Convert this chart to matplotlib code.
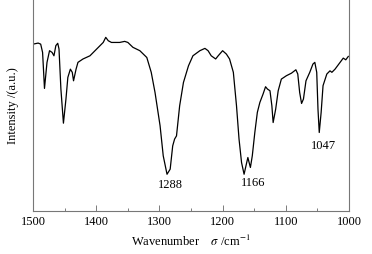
import numpy as np
import matplotlib.pyplot as plt

plt.rcParams['font.family'] = ['Liberation Serif', 'DejaVu Serif']
plt.rcParams['mathtext.fontset'] = 'stix'

# Спектр (волновое число, интенсивность)
wavenumber = [1500, 1492, 1488, 1485, 1482, 1478, 1474, 1470, 1467, 1464, 1461, 1459,
              1456, 1452, 1448, 1445, 1441, 1438, 1436, 1432, 1429, 1421, 1410, 1402,
              1394, 1389, 1385, 1381, 1376, 1363, 1355, 1350, 1342, 1331, 1320, 1313,
              1307, 1299, 1294, 1288, 1283, 1279, 1276, 1273, 1268, 1262, 1254, 1247,
              1236, 1228, 1223, 1218, 1211, 1207, 1200, 1194, 1189, 1183, 1178, 1174,
              1170, 1166, 1163, 1160, 1158, 1156, 1153, 1149, 1145, 1141, 1136, 1132,
              1129, 1125, 1122, 1120, 1116, 1112, 1107, 1099, 1091, 1084, 1081, 1078,
              1075, 1072, 1068, 1062, 1057, 1054, 1051, 1049, 1047, 1044, 1041, 1035,
              1030, 1027, 1022, 1014, 1009, 1005, 1001]
intensity = [78.7, 79.2, 78.7, 74.8, 57.8, 70.1, 75.6, 74.8, 73.2, 78.0, 79.1, 76.4,
             57.5, 41.4, 52.8, 63.0, 66.9, 65.4, 61.4, 66.9, 70.1, 71.7, 73.2, 75.6,
             78.0, 79.5, 81.9, 80.3, 79.5, 79.5, 80.0, 79.5, 77.2, 75.6, 72.4, 65.4,
             55.9, 40.2, 26.0, 17.3, 19.7, 30.7, 33.9, 35.4, 49.6, 60.6, 68.5, 73.2,
             75.6, 76.7, 75.6, 73.2, 71.7, 73.2, 75.6, 74.0, 71.7, 65.4, 49.6, 33.9,
             22.8, 17.3, 21.3, 25.2, 22.8, 20.5, 26.0, 37.0, 46.5, 51.2, 55.1, 58.6,
             57.5, 56.7, 49.6, 41.7, 48.0, 56.7, 62.2, 63.8, 65.0, 66.6, 64.6, 55.9,
             50.7, 52.8, 61.4, 65.4, 69.3, 70.1, 65.4, 48.0, 37.0, 46.5, 59.1, 64.6,
             66.1, 65.4, 66.9, 70.1, 72.1, 71.3, 72.9]

peak_labels = ['1288', '1166', '1047']

fig = plt.figure(figsize=(3.72, 2.55), dpi=100)
ax = fig.add_axes([0.089, 0.169, 0.849, 0.831])

ax.plot(wavenumber, intensity, color='black', lw=0.9)

ax.set_xlim(1500, 1000)
ax.set_ylim(0, 100)
ax.set_xticks([1500, 1400, 1300, 1200, 1100, 1000])
ax.set_xticks(np.arange(1450, 1000, -100), minor=True)
ax.set_yticks([])
ax.tick_params(axis='x', which='major', direction='in', length=4, width=0.6,
               labelsize=9, pad=3, color='#666666')
ax.tick_params(axis='x', which='minor', direction='in', length=2, width=0.6,
               color='#666666')
ax.spines['top'].set_visible(False)
for s in ['left', 'right', 'bottom']:
    ax.spines[s].set_color('#777777')
    ax.spines[s].set_linewidth(0.8)

ax.set_xlabel(r'Wavenumber    $\sigma$ /cm$^{-1}$', fontsize=9, labelpad=4)
ax.set_ylabel('Intensity /(a.u.)', fontsize=9, labelpad=10)

ax.text(1282, 12.6, peak_labels[0], fontsize=9, ha='center', va='center')
ax.text(1151, 13.7, peak_labels[1], fontsize=9, ha='center', va='center')
ax.text(1040, 31.2, peak_labels[2], fontsize=9, ha='center', va='center')

fig.savefig('out.png', dpi=100)
